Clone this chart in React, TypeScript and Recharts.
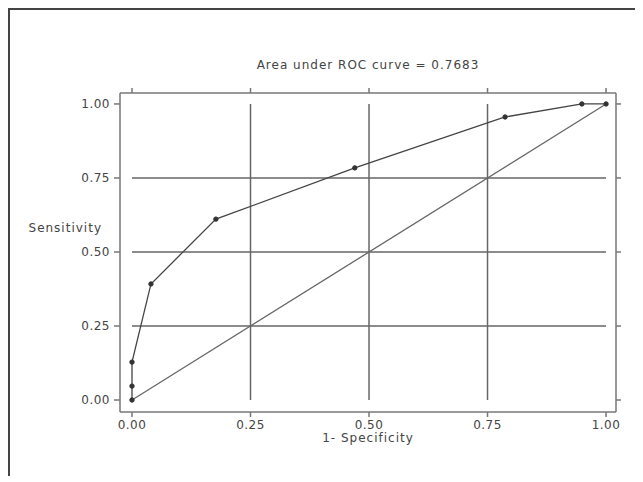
import { LineChart, Line, XAxis, YAxis, ReferenceLine } from 'recharts';

// ROC curve points (1 - specificity, sensitivity)
const fpr = [0, 0, 0, 0.04, 0.177, 0.47, 0.787, 0.949, 1];
const tpr = [0, 0.047, 0.128, 0.392, 0.611, 0.784, 0.956, 1, 1];

// chance diagonal
const diagX = [0, 1];
const diagY = [0, 1];

const ticks = [0, 0.25, 0.5, 0.75, 1];
const gridValues = [0.25, 0.5, 0.75];

const title = 'Area under ROC curve = 0.7683';
const xLabel = '1- Specificity';
const yLabel = 'Sensitivity';

const rocData = fpr.map((x, i) => ({ x, y: tpr[i] }));
const diagData = diagX.map((x, i) => ({ x, y: diagY[i] }));

const FONT = '"DejaVu Sans", Arial, sans-serif';
const textStyle = { fontFamily: FONT, fontSize: 12, fill: '#444', letterSpacing: 1 };
const tickStyle = { fontFamily: FONT, fontSize: 12, fill: '#444', letterSpacing: 0.5 };
const fmt = (v: number) => v.toFixed(2);
const blank = () => '';

export default function App() {
  return (
    <div
      style={{
        position: 'relative',
        height: 466,
        overflow: 'hidden',
        borderLeft: '2px solid #444',
        borderTop: '2px solid #444',
      }}
    >
      <div style={{ position: 'absolute', left: -10, top: -10 }}>
        <LineChart
          width={643}
          height={482}
          margin={{ top: 83, right: 17, bottom: 40, left: 60 }}
        >
          <XAxis
            xAxisId="b"
            dataKey="x"
            type="number"
            domain={[-0.0253, 1.021]}
            allowDataOverflow
            ticks={ticks}
            tickFormatter={fmt}
            height={30}
            tickSize={5}
            tickMargin={3}
            stroke="#777"
            strokeWidth={1.5}
            tick={tickStyle}
            label={{ value: xLabel, position: 'bottom', offset: -9, style: textStyle }}
          />
          <XAxis
            xAxisId="t"
            orientation="top"
            dataKey="x"
            type="number"
            domain={[-0.0253, 1.021]}
            allowDataOverflow
            ticks={ticks}
            tickFormatter={blank}
            height={10}
            tickSize={5}
            stroke="#777"
            strokeWidth={1.5}
            label={{ value: title, position: 'top', offset: 14, style: textStyle }}
          />
          <YAxis
            yAxisId="l"
            dataKey="y"
            type="number"
            domain={[-0.0405, 1.037]}
            allowDataOverflow
            ticks={ticks}
            tickFormatter={fmt}
            width={60}
            tickSize={6}
            tickMargin={4}
            stroke="#777"
            strokeWidth={1.5}
            tick={tickStyle}
            label={{ value: yLabel, position: 'left', offset: -42, dy: -25, style: { ...textStyle, textAnchor: 'end' } }}
          />
          <YAxis
            yAxisId="r"
            orientation="right"
            dataKey="y"
            type="number"
            domain={[-0.0405, 1.037]}
            allowDataOverflow
            ticks={ticks}
            tickFormatter={blank}
            width={10}
            tickSize={5}
            stroke="#777"
            strokeWidth={1.5}
          />
          {gridValues.map((v) => (
            <ReferenceLine
              key={'v' + v}
              xAxisId="b"
              yAxisId="l"
              segment={[{ x: v, y: 0 }, { x: v, y: 1 }]}
              stroke="#666"
              strokeWidth={1.5}
            />
          ))}
          {gridValues.map((v) => (
            <ReferenceLine
              key={'h' + v}
              xAxisId="b"
              yAxisId="l"
              segment={[{ x: 0, y: v }, { x: 1, y: v }]}
              stroke="#666"
              strokeWidth={1.5}
            />
          ))}
          <Line
            xAxisId="b"
            yAxisId="l"
            data={diagData}
            dataKey="y"
            type="linear"
            stroke="#666"
            strokeWidth={1.3}
            dot={false}
            isAnimationActive={false}
          />
          <Line
            xAxisId="b"
            yAxisId="l"
            data={rocData}
            dataKey="y"
            type="linear"
            stroke="#444"
            strokeWidth={1.3}
            dot={{ r: 2.2, fill: '#333', stroke: '#333', strokeWidth: 1 }}
            isAnimationActive={false}
          />
        </LineChart>
      </div>
    </div>
  );
}
